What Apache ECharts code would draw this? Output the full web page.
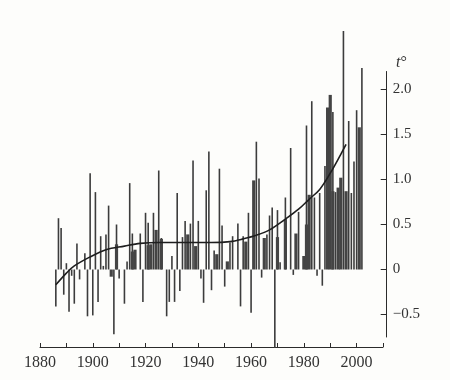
<!DOCTYPE html>
<html>
<head>
<meta charset="utf-8">
<script src="https://cdn.jsdelivr.net/npm/echarts@6/dist/echarts.min.js"></script>
<style>
html,body{margin:0;padding:0;background:#fdfdfb;}
#c{width:450px;height:380px;}
</style>
</head>
<body>
<div id="c"></div>
<script>
// Years of the annual bars
const years = [];
for (let y = 1886; y <= 2002; y++) years.push(y);

// Thin annual bars (t°, null = no separate thin line)
const thinValues = [
  -0.41, 0.57, 0.46, -0.28, 0.07, -0.47, -0.07, -0.38, 0.29, -0.11,   // 1886-1895
  null, 0.18, -0.52, 1.07, -0.51, 0.86, -0.36, 0.37, 0.04, 0.39,      // 1896-1905
  0.71, null, -0.72, 0.50, -0.10, null, -0.38, 0.09, 0.96, 0.40,      // 1906-1915
  null, null, 0.40, -0.36, 0.63, 0.52, null, 0.63, null, 1.10,        // 1916-1925
  0.35, null, -0.52, -0.36, 0.15, -0.36, 0.85, -0.24, 0.36, 0.54,     // 1926-1935
  null, 0.51, 1.21, null, 0.54, -0.10, -0.37, 0.88, 1.31, -0.23,      // 1936-1945
  0.21, null, 1.12, 0.49, -0.19, null, 0.30, 0.37, null, 0.51,        // 1946-1955
  -0.41, 0.37, null, 0.63, -0.48, null, 1.42, 1.01, -0.09, null,      // 1956-1965
  0.39, 0.60, 0.69, -0.87, 0.66, 0.08, null, 0.80, null, 1.35,        // 1966-1975
  -0.06, null, 0.64, null, null, 1.60, null, 1.87, 0.80, -0.07,       // 1976-1985
  0.85, -0.18, 1.15, null, null, 1.75, 0.86, null, null, 2.65,        // 1986-1995
  null, 1.65, 0.85, 1.20, 1.77, null, 2.24                            // 1996-2002
];

// Thick dark bars
const thickYears  = [1907, 1909, 1915, 1916, 1921, 1922, 1924, 1926, 1936, 1939, 1947, 1951, 1958, 1961, 1965, 1970, 1973, 1977, 1980, 1981, 1982, 1989, 1990, 1991, 1993, 1994, 1996, 2001];
const thickValues = [-0.08, 0.28, 0.20, 0.22, 0.27, 0.28, 0.44, 0.34, 0.39, 0.26, 0.17, 0.09, 0.31, 0.99, 0.35, 0.36, 0.56, 0.40, 0.15, 0.50, 0.83, 1.80, 1.94, 0.87, 0.91, 1.02, 0.87, 1.58];

// Smoothed trend curve
const curveYears  = [1886, 1890, 1893, 1899, 1905, 1912, 1918, 1925, 1935, 1945, 1952, 1957, 1962, 1967, 1973, 1978, 1982, 1986, 1990, 1994, 1996];
const curveValues = [-0.17, -0.04, 0.04, 0.14, 0.22, 0.26, 0.29, 0.30, 0.30, 0.30, 0.31, 0.34, 0.38, 0.44, 0.56, 0.67, 0.78, 0.89, 1.07, 1.28, 1.39];

// Tick labels
const yTicks = [-0.5, 0, 0.5, 1.0, 1.5, 2.0];
const xLabelYears = [1880, 1900, 1920, 1940, 1960, 1980, 2000];

const thinData = years.map((y, i) => [y, thinValues[i]]).filter(d => d[1] !== null);
const thickData = thickYears.map((y, i) => [y, thickValues[i]]);
const curveData = curveYears.map((y, i) => [y, curveValues[i]]);

const serif = '"Liberation Serif", "DejaVu Serif", serif';
const ink = '#2b2b2b';

const chart = echarts.init(document.getElementById('c'), null, {renderer: 'canvas'});
chart.setOption({
  backgroundColor: '#fdfdfb',
  animation: false,
  grid: [
    {left: 40, right: 63.3, top: 26.5, bottom: 29.5},
    {left: 40, right: 63.3, top: 71.5, bottom: 43},
    {left: 40, right: 67, top: 300, bottom: 33}
  ],
  xAxis: [
    {gridIndex: 0, type: 'value', min: 1880, max: 2011.4, show: false},
    {gridIndex: 0, type: 'value', min: 1880, max: 2011.4, show: false},
    {gridIndex: 1, type: 'value', min: 1880, max: 2011.4, show: false},
    {
      gridIndex: 2, type: 'value', min: 1880, max: 2010, interval: 10,
      position: 'bottom',
      axisLine: {show: true, lineStyle: {color: ink, width: 1}},
      axisTick: {show: true, inside: true, length: 4, lineStyle: {color: ink}},
      axisLabel: {
        customValues: xLabelYears, margin: 8,
        fontFamily: serif, fontSize: 16, color: '#333',
        formatter: v => String(v)
      },
      splitLine: {show: false}
    }
  ],
  yAxis: [
    {gridIndex: 0, type: 'value', min: -0.9, max: 2.7, show: false},
    {
      gridIndex: 1, type: 'value', min: -0.75, max: 2.2, position: 'right',
      axisLine: {show: true, lineStyle: {color: ink, width: 1}},
      axisTick: {show: true, inside: true, length: 6, customValues: yTicks, lineStyle: {color: ink}},
      axisLabel: {
        customValues: yTicks, margin: 6, fontFamily: serif, fontSize: 15, color: '#333',
        formatter: v => v === 0 ? '0' : (v < 0 ? '\u2212' : '') + Math.abs(v).toFixed(1)
      },
      splitLine: {show: false}
    },
    {gridIndex: 2, type: 'value', min: 0, max: 1, show: false}
  ],
  series: [
    {
      type: 'bar', xAxisIndex: 0, yAxisIndex: 0, data: thinData,
      barWidth: 1.6, itemStyle: {color: '#3c3c3c'}, silent: true
    },
    {
      type: 'bar', xAxisIndex: 1, yAxisIndex: 0, data: thickData,
      barWidth: 3.2, itemStyle: {color: '#444444'}, silent: true
    },
    {
      type: 'line', xAxisIndex: 0, yAxisIndex: 0, data: curveData,
      smooth: 0.35, showSymbol: false, symbol: 'none',
      lineStyle: {color: '#1e1e1e', width: 1.6}, silent: true, z: 5
    }
  ],
  graphic: [
    {
      type: 'text', left: 396, top: 55,
      style: {
        text: '{i|t}°',
        rich: {i: {fontStyle: 'italic', fontFamily: serif, fontSize: 16, fill: '#333'}},
        fontFamily: serif, fontSize: 16, fill: '#333'
      }
    }
  ]
});
</script>
</body>
</html>
